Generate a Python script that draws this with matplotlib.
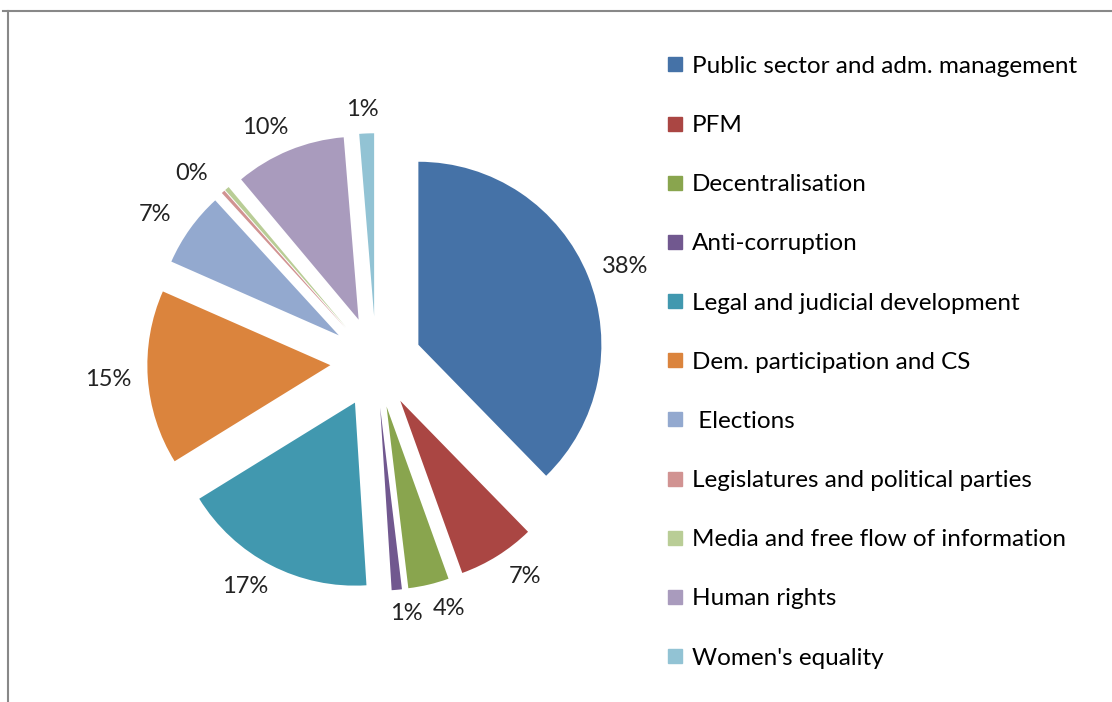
import matplotlib
matplotlib.use("Agg")
import numpy as np
import matplotlib.pyplot as plt
from matplotlib.lines import Line2D

plt.rcParams['font.family'] = ['Lato', 'DejaVu Sans']

categories = ["Public sector and adm. management", "PFM", "Decentralisation",
              "Anti-corruption", "Legal and judicial development",
              "Dem. participation and CS", " Elections",
              "Legislatures and political parties",
              "Media and free flow of information", "Human rights",
              "Women's equality"]
shares = [37.7, 6.8, 3.6, 0.9, 17.2, 15.4, 6.6, 0.3, 0.4, 9.8, 1.3]
colors = ["#4572A7", "#AA4643", "#89A54E", "#71588F", "#4198AF", "#DB843D",
          "#93A9CF", "#D19392", "#B9CD96", "#A99BBD", "#92C3D4"]

W, H = 1112, 702
fig = plt.figure(figsize=(W / 100, H / 100), dpi=100)

# pie centre ~ (376, 362) px, radius ~183 px
cx, cy, r = 376, 362, 183
a = 1.6
side = 2 * a * r
ax = fig.add_axes([(cx - side / 2) / W, (H - cy - side / 2) / H, side / W, side / H])
wedges, texts, autotexts = ax.pie(shares, colors=colors, explode=[0.25] * len(shares),
                                  startangle=90, counterclock=False,
                                  autopct='%1.0f%%', pctdistance=1.2,
                                  textprops=dict(fontsize=17, color="#222222"))
autotexts[8].set_text("")  # second 0% label not shown
ax.set_xlim(-a, a)
ax.set_ylim(-a, a)
ax.set_aspect('equal')

# labels sit on a ring round the pie, nudged sideways away from it
ring = 253 / r
push = 15 / r
for w, t in zip(wedges, autotexts):
    ang = np.deg2rad((w.theta1 + w.theta2) / 2)
    ux, uy = np.cos(ang), np.sin(ang)
    dx = push * np.sign(ux) * min(1, abs(ux) / 0.2)
    t.set_position((ring * ux + dx, ring * uy))
    t.set_ha('center')
    t.set_va('center')

handles = [Line2D([], [], marker='s', linestyle='none', markersize=9.5,
                  markerfacecolor=c, markeredgecolor=c) for c in colors]
fig.legend(handles, categories, loc='upper left', bbox_to_anchor=(641 / W, 1 - 34 / H),
           frameon=False, fontsize=17.5, labelspacing=1.57, handletextpad=0.2,
           handlelength=1.0)

# chart frame (only top and left edges visible)
fig.add_artist(Line2D([3 / W, 1], [1 - 11 / H, 1 - 11 / H], color="#888888", lw=1.5))
fig.add_artist(Line2D([8 / W, 8 / W], [0, 1 - 11 / H], color="#888888", lw=1.5))

fig.savefig("out.png", dpi=100)
